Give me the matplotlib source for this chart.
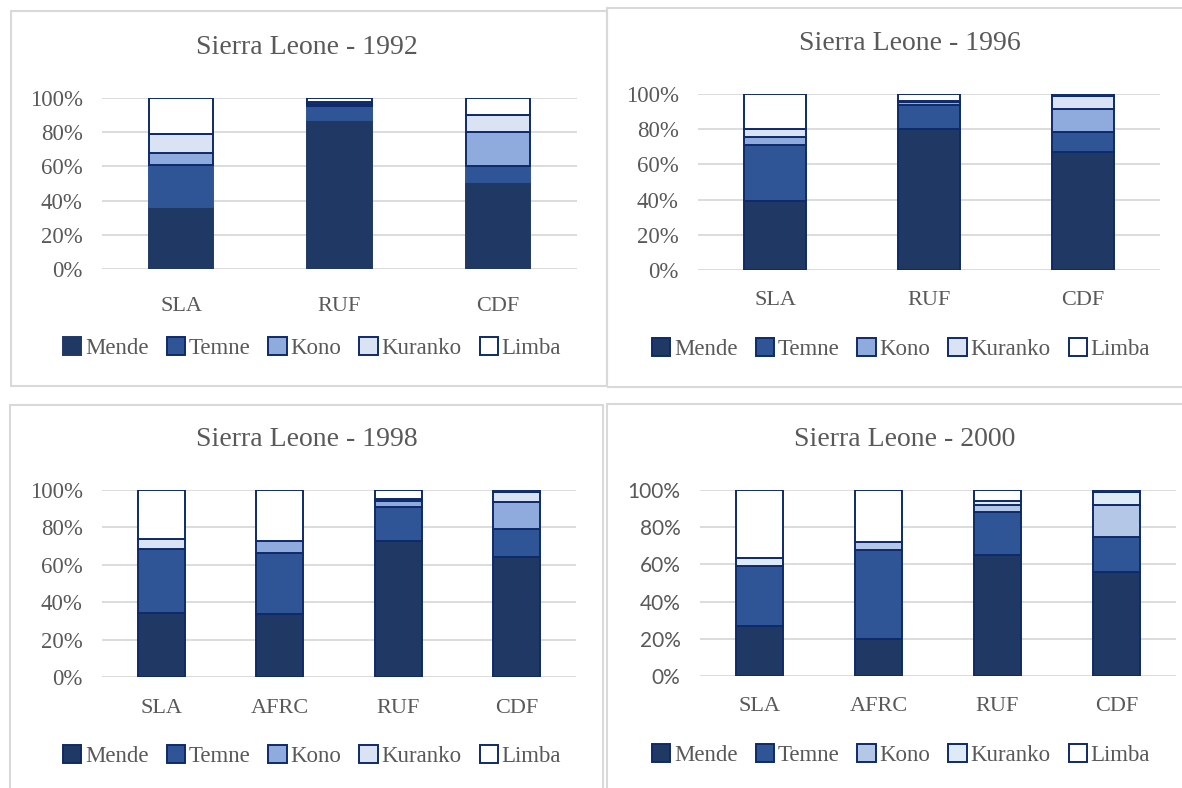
import matplotlib
matplotlib.use("Agg")
import matplotlib.pyplot as plt
from matplotlib.patches import Patch, Rectangle
from matplotlib.ticker import PercentFormatter

# ---- data: share of each ethnic group within each armed faction (%) ----
ethnic_groups = ["Mende", "Temne", "Kono", "Kuranko", "Limba"]

factions_1992 = ["SLA", "RUF", "CDF"]
mende_1992 = [36, 87, 51]
temne_1992 = [25, 8.6, 9]
kono_1992 = [7, 1.0, 20]
kuranko_1992 = [11, 1.2, 10]
limba_1992 = [21, 2.2, 10]

factions_1996 = ["SLA", "RUF", "CDF"]
mende_1996 = [39, 80, 67]
temne_1996 = [32, 14, 11.4]
kono_1996 = [4.5, 1.5, 12.8]
kuranko_1996 = [4.5, 0.8, 7.7]
limba_1996 = [20, 3.7, 1.1]

factions_1998 = ["SLA", "AFRC", "RUF", "CDF"]
mende_1998 = [34, 33.5, 72.5, 64.4]
temne_1998 = [34.5, 33, 18.5, 15]
kono_1998 = [0, 6, 3, 14.2]
kuranko_1998 = [5.5, 0, 1, 5.2]
limba_1998 = [26, 27.5, 5, 1.2]

factions_2000 = ["SLA", "AFRC", "RUF", "CDF"]
mende_2000 = [27, 20, 65, 56]
temne_2000 = [32, 48, 23, 19]
kono_2000 = [0, 4.1, 4, 17]
kuranko_2000 = [4.5, 0, 2, 7]
limba_2000 = [36.5, 27.9, 6, 1]

# ---- styling ----
W, H = 1182, 788
NAVY_EDGE = "#0E2A6A"
TEXT = "#595959"
GRID = "#D9D9D9"
SERIF = ["Liberation Serif", "DejaVu Serif"]
SANS = ["Lato", "DejaVu Sans"]

palette_std = ["#1F3864", "#2F5597", "#8FAADC", "#DAE3F3", "#FFFFFF"]
palette_2000 = ["#1F3864", "#2F5597", "#B4C7E7", "#DEEBF7", "#FFFFFF"]

fig = plt.figure(figsize=(W / 100, H / 100), dpi=100)
fig.patch.set_facecolor("white")


def fx(x):
    return x / W


def fy(y):
    return 1 - y / H


# light grey chart-area frames
for (x0, y0, x1, y1) in [(11, 11, 607, 386), (607, 8, 1186, 387),
                         (10, 405, 603, 792), (607, 404, 1186, 792)]:
    fig.patches.append(Rectangle((fx(x0), fy(y1)), fx(x1 - x0), (y1 - y0) / H,
                                 transform=fig.transFigure, fill=False,
                                 edgecolor=GRID, linewidth=1.5, zorder=0))


def panel(title, factions, series, box, title_xy, legend_xy, palette,
          tick_family, bar_width, xpad, dark_edges=True):
    x0, x1, ytop, ybot = box
    ax = fig.add_axes([fx(x0), fy(ybot), fx(x1 - x0), (ybot - ytop) / H])
    xs = list(range(len(factions)))
    bottom = [0.0] * len(factions)
    for i, (name, vals) in enumerate(zip(ethnic_groups, series)):
        frac = [v / 100 for v in vals]
        edge = NAVY_EDGE if (dark_edges or i >= 2) else palette[i]
        ax.bar(xs, frac, bar_width, bottom=bottom, color=palette[i],
               edgecolor=edge, linewidth=1.4, zorder=3)
        bottom = [b + f for b, f in zip(bottom, frac)]
    ax.set_xlim(-0.5, len(factions) - 0.5)
    ax.set_ylim(0, 1)
    ax.set_yticks([0, 0.2, 0.4, 0.6, 0.8, 1.0])
    ax.yaxis.set_major_formatter(PercentFormatter(1.0, decimals=0))
    ax.set_xticks(xs)
    ax.set_xticklabels(factions, family=SERIF, fontsize=16, color=TEXT)
    for lab in ax.get_yticklabels():
        lab.set_family(tick_family)
        lab.set_fontsize(16.5 if tick_family is SERIF else 15)
        lab.set_color(TEXT)
    ax.tick_params(axis="both", length=0)
    ax.tick_params(axis="y", pad=14)
    ax.tick_params(axis="x", pad=xpad)
    ax.yaxis.grid(True, color=GRID, linewidth=1.3)
    ax.set_axisbelow(True)
    for s in ax.spines.values():
        s.set_visible(False)

    fig.text(fx(title_xy[0]), fy(title_xy[1]), title, ha="center", va="center",
             family=SERIF, fontsize=20, color=TEXT)

    handles = []
    for i, name in enumerate(ethnic_groups):
        edge = NAVY_EDGE if (dark_edges or i >= 1) else palette[i]
        handles.append(Patch(facecolor=palette[i], edgecolor=edge,
                             linewidth=1.4, label=name))
    leg = fig.legend(handles=handles, loc="center",
                     bbox_to_anchor=(fx(legend_xy[0]), fy(legend_xy[1])),
                     ncol=5, frameon=False, handlelength=0.8,
                     handleheight=0.8, handletextpad=0.15,
                     columnspacing=0.8, borderaxespad=0,
                     prop={"family": SERIF, "size": 16.5})
    for t in leg.get_texts():
        t.set_color(TEXT)


panel("Sierra Leone - 1992", factions_1992,
      [mende_1992, temne_1992, kono_1992, kuranko_1992, limba_1992],
      (102, 577, 98, 269), (307, 47), (312, 348), palette_std, SERIF, 0.405,
      xpad=20, dark_edges=False)

panel("Sierra Leone - 1996", factions_1996,
      [mende_1996, temne_1996, kono_1996, kuranko_1996, limba_1996],
      (698, 1160, 94, 270), (910, 44), (901, 349), palette_std, SERIF, 0.40,
      xpad=15)

panel("Sierra Leone - 1998", factions_1998,
      [mende_1998, temne_1998, kono_1998, kuranko_1998, limba_1998],
      (102, 576, 490, 677), (307, 440), (312, 756), palette_std, SERIF, 0.40,
      xpad=16)

panel("Sierra Leone - 2000", factions_2000,
      [mende_2000, temne_2000, kono_2000, kuranko_2000, limba_2000],
      (700, 1176, 490, 676), (905, 440), (901, 755), palette_2000, SANS, 0.40,
      xpad=15)

fig.savefig("out.png", dpi=100, facecolor="white")
